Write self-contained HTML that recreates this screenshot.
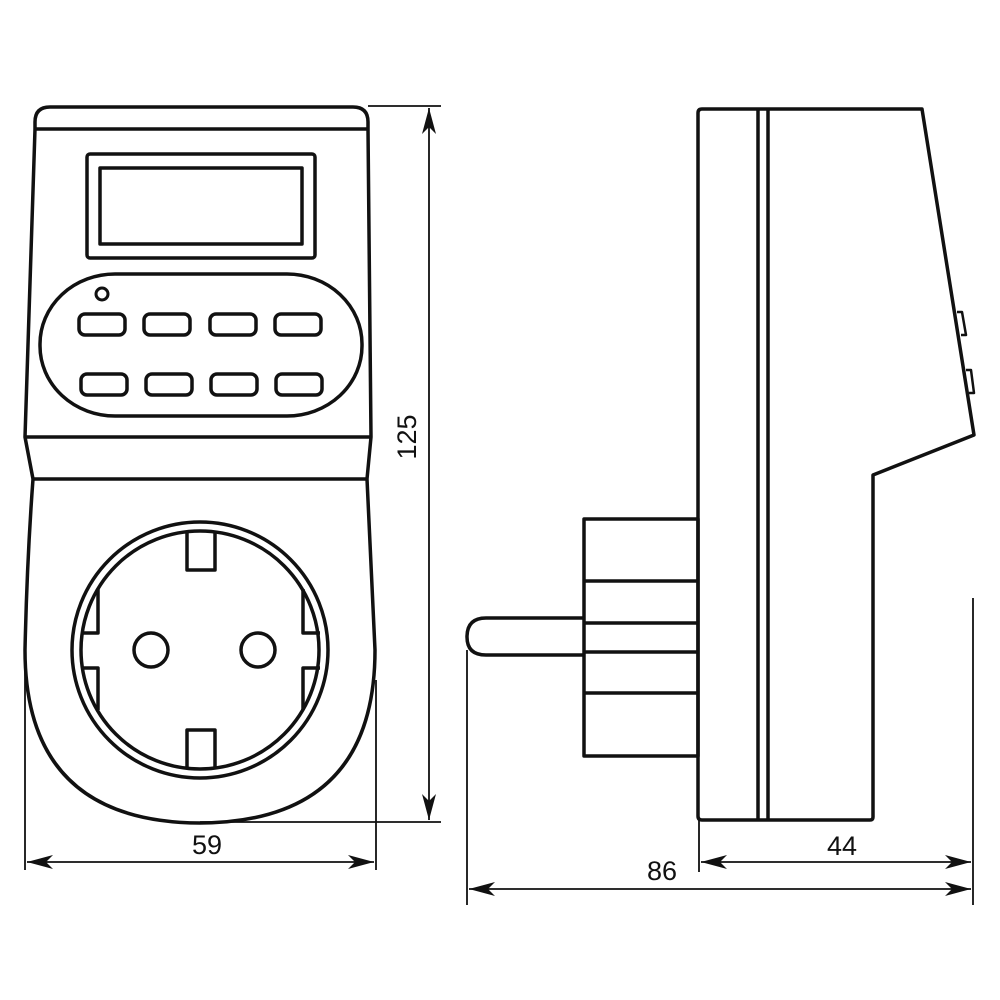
<!DOCTYPE html>
<html><head><meta charset="utf-8"><style>html,body{margin:0;padding:0;background:#fff}svg{display:block}</style></head><body>
<svg width="1000" height="1000" viewBox="0 0 1000 1000" xmlns="http://www.w3.org/2000/svg">
<defs>
<marker id="ar" viewBox="0 0 26 14" refX="26" refY="7" markerWidth="26" markerHeight="14" markerUnits="userSpaceOnUse" orient="auto-start-reverse">
<path d="M0,0 L26,7 L0,14 L7,7 Z" fill="#111"/>
</marker>
</defs>
<g fill="none" stroke="#111" stroke-width="3.5" stroke-linejoin="round">
<!-- front view -->
<path d="M35,129 L35,122 Q35,107 50,107 L353,107 Q368,107 368,122 L368,129"/>
<path d="M35,129 L368,129"/>
<path d="M35,129 L25,437 L33,479 Q27,560 25,650 Q25,822 200,823 Q375,822 375,650 Q371,560 367,479 L371,437 L368,129"/>
<line x1="25" y1="437" x2="371" y2="437"/>
<line x1="33" y1="479" x2="367" y2="479"/>
<rect x="87" y="154" width="228" height="104" rx="3"/>
<rect x="100" y="168" width="202" height="76"/>
<rect x="40" y="274" width="322" height="142" rx="75" ry="70"/>
<circle cx="102" cy="294" r="6" stroke-width="3"/>
<rect x="79" y="314" width="46" height="21" rx="6"/>
<rect x="144" y="314" width="46" height="21" rx="6"/>
<rect x="210" y="314" width="46" height="21" rx="6"/>
<rect x="275" y="314" width="46" height="21" rx="6"/>
<rect x="81" y="374" width="46" height="21" rx="6"/>
<rect x="146" y="374" width="46" height="21" rx="6"/>
<rect x="211" y="374" width="46" height="21" rx="6"/>
<rect x="276" y="374" width="46" height="21" rx="6"/>
<circle cx="200" cy="650" r="128"/>
<circle cx="200" cy="650" r="119"/>
<circle cx="151" cy="650" r="17"/>
<circle cx="258" cy="650" r="17"/>
<path d="M187,533 L187,570 L215,570 L215,533"/>
<path d="M187,767 L187,730 L215,730 L215,767"/>
<path d="M98,589 L98,633 L81,633"/>
<path d="M81,668 L98,668 L98,710"/>
<path d="M303,589 L303,633 L320,633"/>
<path d="M320,668 L303,668 L303,710"/>
<!-- side view -->
<path d="M698,113 Q698,109 702,109 L922,109 L974,435 L873,475 L873,817 Q873,820 870,820 L702,820 Q698,820 698,816 Z"/>
<line x1="758" y1="109" x2="758" y2="820"/>
<line x1="768" y1="109" x2="768" y2="820"/>
<path d="M957,312 L962,312 L966,335 L961,335" stroke-width="2.5"/>
<path d="M966,370 L971,370 L974,393 L969,393" stroke-width="2.5"/>
<rect x="584" y="519" width="114" height="237"/>
<line x1="584" y1="581" x2="698" y2="581"/>
<line x1="584" y1="623" x2="698" y2="623"/>
<line x1="584" y1="652" x2="698" y2="652"/>
<line x1="584" y1="693" x2="698" y2="693"/>
<path d="M584,618 L486,618 Q467,618 467,637 Q467,655 486,655 L584,655"/>
</g>
<g stroke="#111" stroke-width="1.8" fill="none">
<line x1="368" y1="106" x2="441" y2="106"/>
<line x1="200" y1="822" x2="441" y2="822"/>
<line x1="429" y1="108" x2="429" y2="820" marker-start="url(#ar)" marker-end="url(#ar)"/>
<line x1="25" y1="650" x2="25" y2="870"/>
<line x1="376" y1="680" x2="376" y2="870"/>
<line x1="27" y1="862" x2="374" y2="862" marker-start="url(#ar)" marker-end="url(#ar)"/>
<line x1="467" y1="650" x2="467" y2="905"/>
<line x1="699" y1="820" x2="699" y2="872"/>
<line x1="973" y1="598" x2="973" y2="905"/>
<line x1="701" y1="862" x2="971" y2="862" marker-start="url(#ar)" marker-end="url(#ar)"/>
<line x1="469" y1="889" x2="971" y2="889" marker-start="url(#ar)" marker-end="url(#ar)"/>
</g>
<g font-family="Liberation Sans, sans-serif" font-size="27" fill="#111">
<text x="207" y="854" text-anchor="middle">59</text>
<text x="662" y="880" text-anchor="middle">86</text>
<text x="842" y="855" text-anchor="middle">44</text>
<text transform="translate(416,437) rotate(-90)" text-anchor="middle">125</text>
</g>
</svg>
</body></html>
